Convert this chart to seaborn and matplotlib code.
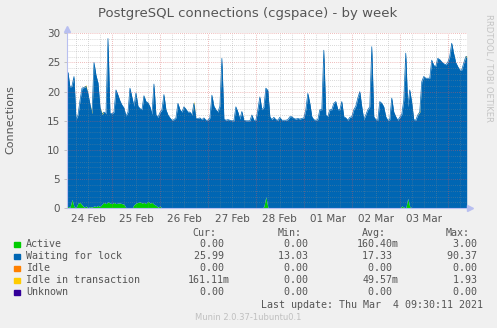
import numpy as np
import pandas as pd
import matplotlib
matplotlib.use("Agg")
import matplotlib.pyplot as plt
from matplotlib.patches import Rectangle
import seaborn as sns

# ---------------- data (hourly samples, first sample = 2021-02-24 01:30) ----------------
start_time = "2021-02-24 01:30"

waiting = [
    23, 20.5, 19.5, 22.3, 15.1, 15.1, 17.5, 20, 20.5, 20.5, 19.5, 17.5, 16, 24.6, 22.5, 21, 17, 15.4, 15.5, 15.4, 28, 15.4, 15.4, 15.5,
    19.5, 18.5, 17.5, 16.9, 16.5, 15.7, 16.5, 20.6, 19, 16.9, 18.9, 16.5, 16, 16, 18.3, 17.5, 16.9, 16.5, 15.1, 20.6, 15.5, 15.4, 16, 16.9,
    19.4, 16.9, 16, 15.5, 15.1, 15.1, 15.5, 18, 16.9, 16.5, 17.4, 16.9, 16.5, 16.5, 16, 18, 15.4, 15.4, 15.5, 15.2, 15.5, 15.1, 15.1, 15.5,
    19.4, 17.5, 16.9, 16.5, 17.5, 25.7, 15.3, 15.1, 15.2, 15.1, 15, 15, 17.4, 16.5, 15.3, 16.6, 15.1, 15, 15, 15, 16, 15.1, 15.1, 16.9,
    19.1, 16.9, 17, 18.6, 20, 15.7, 15.2, 15.6, 15.2, 15.1, 15.6, 15.1, 15.1, 15.1, 15.2, 15.7, 15.7, 15.4, 15.3, 15.4, 15.3, 15.4, 15.5, 16.9,
    19.7, 18, 15.7, 15.2, 15.1, 15.2, 16.9, 16.9, 27.1, 16, 15.7, 16.9, 16.9, 18, 18.3, 16.9, 16.9, 18.3, 15.7, 15.5, 15.1, 15.6, 15.7, 16.9,
    17.5, 18.9, 20, 17.4, 15.2, 16, 16.9, 17.4, 27.7, 15.7, 15.2, 15.1, 18.3, 18, 17.4, 15.7, 15.1, 15.2, 18.9, 16.5, 15.7, 15.1, 15.6, 15.7,
    18.3, 26.6, 15.7, 20, 18, 15.2, 15.1, 16, 16.5, 21.7, 22.6, 22.3, 22.3, 22.3, 25.4, 24.5, 24.3, 25.7, 25.5, 25.1, 24.8, 24.6, 25, 26,
    28.3, 26.5, 25, 24.3, 23.7, 23.7, 24.9, 25.99,
]

active = [
    0.3, 0.2, 1.5, 0.3, 0.1, 0.9, 1.0, 0.6, 0.2, 0.4, 0.1, 0.3, 0.2, 0.4, 0.3, 0.5, 0.3, 0.7, 1.0, 0.8, 1.1, 0.9, 0.8, 1.0,
    0.8, 0.9, 0.9, 0.8, 0.7, 0.1, 0, 0, 0, 0.6, 0.9, 1.0, 1.1, 0.9, 1.0, 0.8, 1.2, 0.9, 1.0, 0.7, 0.5, 0.2, 0.4, 0,
    0.1, 0, 0, 0, 0, 0.1, 0, 0, 0, 0, 0, 0.1, 0, 0, 0, 0, 0, 0, 0, 0, 0, 0, 0, 0,
    0, 0, 0, 0, 0, 0, 0, 0, 0, 0, 0, 0, 0, 0, 0, 0, 0, 0, 0, 0, 0, 0, 0, 0,
    0, 0, 0.3, 2.0, 0.2, 0, 0, 0, 0, 0, 0, 0, 0, 0, 0, 0, 0, 0, 0, 0, 0, 0, 0, 0,
    0, 0, 0, 0, 0, 0, 0, 0, 0, 0, 0, 0, 0, 0, 0, 0, 0, 0, 0, 0, 0, 0, 0, 0,
    0, 0, 0, 0, 0, 0, 0, 0, 0, 0, 0, 0, 0, 0, 0, 0, 0, 0, 0, 0, 0, 0, 0, 0.4,
    0.2, 0, 1.7, 0.3, 0.1, 0, 0, 0, 0, 0, 0, 0, 0, 0, 0, 0, 0, 0, 0, 0, 0, 0, 0, 0,
    0, 0, 0, 0, 0, 0, 0, 0,
]

idle = [0.0] * len(waiting)

idle_in_tx = [
    0, 0, 0, 0, 0, 0, 0, 0, 0, 0.3, 0, 0, 0.4, 0, 0, 0, 0, 0.3, 0, 0, 0, 0, 0, 0,
    0, 0, 0, 0, 0, 0, 0, 0, 0, 0, 0, 0, 0, 0, 0, 0, 0, 0, 0, 0, 0, 0, 0, 0,
    0, 0, 0, 0, 0, 0, 0, 0, 0, 0, 0, 0, 0, 0, 0, 0.4, 0, 0, 0, 0, 0, 0, 0, 0,
    0, 0, 0, 0, 0, 0, 0, 0, 0, 0, 0, 0, 0, 0, 0, 0, 0, 0, 0, 0, 0, 0, 0, 0,
    0, 0, 0, 0, 0, 0, 0, 0, 0, 0, 0, 0, 0, 0, 0, 0, 0, 0, 0, 0, 0, 0, 0, 0,
    0, 0, 0, 0, 0, 0, 0, 0, 0, 0, 0, 0, 0, 0, 0, 0, 0, 0, 0, 0, 0, 0, 0, 0,
    0, 0, 0, 0, 0, 0, 0, 0, 0, 0, 0, 0, 0, 0, 0, 0, 0, 0, 0, 0, 0, 0, 0, 0,
    0, 0, 0, 0, 0, 0, 0, 0, 0.3, 0, 0, 0, 0, 0, 0, 0, 0, 0, 0, 0, 0, 0, 0, 0,
    0, 0, 0, 0, 0, 0, 0, 0.16,
]

unknown = [0.0] * len(waiting)

series_names = ["Active", "Waiting for lock", "Idle", "Idle in transaction", "Unknown"]
series_colors = ["#00cc00", "#0066b3", "#ff8000", "#ffcc00", "#330099"]
cur_vals = ["0.00 ", "25.99 ", "0.00 ", "161.11m", "0.00 "]
min_vals = ["0.00 ", "13.03 ", "0.00 ", "0.00 ", "0.00 "]
avg_vals = ["160.40m", "17.33 ", "0.00 ", "49.57m", "0.00 "]
max_vals = ["3.00 ", "90.37 ", "0.00 ", "1.93 ", "0.00 "]

day_labels = ["24 Feb", "25 Feb", "26 Feb", "27 Feb", "28 Feb", "01 Mar", "02 Mar", "03 Mar"]
y_ticks = [0, 5, 10, 15, 20, 25, 30]

# ---------------- figure ----------------
sns.set_theme(style="white")
plt.rcParams["font.family"] = ["DejaVu Sans"]

W, H = 497, 328
TXT = "#555555"
fig = plt.figure(figsize=(W / 100, H / 100), dpi=100, facecolor="#f0f0f0")
ax = fig.add_axes([67 / W, 1 - 208.3 / H, (466.7 - 67) / W, (208.3 - 33.3) / H])
ax.set_facecolor("white")

n = len(waiting)
edges = pd.date_range(start_time, periods=n + 1, freq="h")
centers = edges[:-1] + pd.Timedelta(minutes=30)
# sample centres, padded to the plot edges
xs = pd.DatetimeIndex([edges[0]]).append(centers).append(pd.DatetimeIndex([edges[-1]]))

df = pd.DataFrame({
    "Active": active,
    "Waiting for lock": waiting,
    "Idle": idle,
    "Idle in transaction": idle_in_tx,
    "Unknown": unknown,
})

def pad(a):
    return np.concatenate([[a[0]], a, [a[-1]]])

base = np.zeros(n)
tops = {}
for name, col in zip(series_names, series_colors):
    vals = df[name].to_numpy(dtype=float)
    top = base + vals
    tops[name] = top
    if vals.max() > 0:
        ax.fill_between(xs, pad(base), pad(top), color=col, lw=0, zorder=1)
    base = top

# outline of the blue layer with seaborn
sns.lineplot(x=xs, y=pad(tops["Waiting for lock"]), color="#0066b3", lw=0.5, ax=ax, zorder=2)

t0 = edges[0]
t1 = edges[-1]
ax.set_xlim(t0, t1)
ax.set_ylim(0, 30)

# grid
minor_col = (0.55, 0.55, 0.55, 0.45)
major_col = (0.85, 0.35, 0.35, 0.55)
ls = (0, (1, 1.5))
for v in range(1, 31):
    ax.axhline(v, color=major_col if v % 5 == 0 else minor_col, lw=0.6, ls=ls, zorder=3)
for t in pd.date_range("2021-02-24 00:00", "2021-03-04 12:00", freq="6h"):
    if t0 < t < t1:
        ax.axvline(t, color=major_col if t.hour == 0 else minor_col, lw=0.6, ls=ls, zorder=3)

# ticks
noon = pd.date_range("2021-02-24 12:00", periods=len(day_labels), freq="D")
ax.set_xticks(noon)
ax.set_xticklabels(day_labels)
ax.set_yticks(y_ticks)
ax.set_yticklabels([str(v) for v in y_ticks])
ax.tick_params(axis="x", length=0, pad=4, labelsize=7.5, labelcolor=TXT)
ax.tick_params(axis="y", length=2, width=0.6, color="#bbbbbb", pad=3, labelsize=7.5, labelcolor=TXT, left=True)
ax.set_xlabel("")
ax.set_ylabel("")

for s in ["top", "right"]:
    ax.spines[s].set_visible(False)
for s in ["left", "bottom"]:
    ax.spines[s].set_color("#b8bff0")
    ax.spines[s].set_linewidth(0.8)
    ax.spines[s].set_zorder(4)
# axis arrows
ax.plot([t0], [30.7], marker="^", ms=4, color="#b8bff0", clip_on=False, zorder=5)
ax.plot([t1 + pd.Timedelta(hours=1.5)], [0], marker=">", ms=4, color="#b8bff0", clip_on=False, zorder=5)

# texts
def ftext(x, y, s, **kw):
    fig.text(x / W, 1 - y / H, s, **kw)

ftext(248, 14, "PostgreSQL connections (cgspace) - by week", ha="center", va="center",
      fontsize=9.5, color=TXT)
ftext(10, 120, "Connections", rotation=90, ha="center", va="center", fontsize=8, color=TXT)
ftext(489, 14, "RRDTOOL / TOBI OETIKER", rotation=270, ha="center", va="top",
      fontsize=6, color="#c4c4c4")

mono = dict(family="DejaVu Sans Mono", fontsize=7.2, color=TXT, va="center")
header_y = 233
for xr, h in zip([216.7, 301.7, 386, 470], ["Cur:", "Min:", "Avg:", "Max:"]):
    ftext(xr, header_y, h, ha="right", **mono)

row_y = [244.3, 256.3, 268.3, 280.3, 292.3]
for yy, name, col, c, mn, av, mx in zip(row_y, series_names, series_colors,
                                         cur_vals, min_vals, avg_vals, max_vals):
    fig.patches.append(Rectangle((14 / W, 1 - (yy + 2.8) / H), 5.5 / W, 5.5 / H,
                                 transform=fig.transFigure, color=col, figure=fig))
    ftext(26, yy, name, ha="left", **mono)
    ftext(229.5, yy, c, ha="right", **mono)
    ftext(314.3, yy, mn, ha="right", **mono)
    ftext(398.5, yy, av, ha="right", **mono)
    ftext(482.7, yy, mx, ha="right", **mono)

ftext(482.7, 304.7, "Last update: Thu Mar  4 09:30:11 2021", ha="right", **mono)
ftext(248, 317.7, "Munin 2.0.37-1ubuntu0.1", ha="center", va="center", fontsize=6, color="#c0c0c0")

fig.savefig("out.png", dpi=100, facecolor=fig.get_facecolor())
